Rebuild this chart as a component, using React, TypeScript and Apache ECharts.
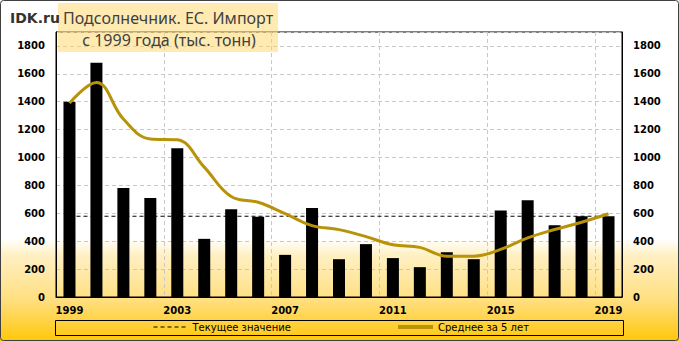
import React, { useEffect, useRef } from "react";
import * as echarts from "echarts";

const years = ["1999","2000","2001","2002","2003","2004","2005","2006","2007","2008","2009","2010","2011","2012","2013","2014","2015","2016","2017","2018","2019"];
const imports = [1400,1680,781,709,1066,417,629,576,302,638,271,379,279,214,321,271,621,693,514,579,579];
const avg5 = [1390,1538,1276,1133,1127,931,720,679,598,512,483,433,374,356,293,293,341,424,484,536,597];
const currentValue = imports[imports.length - 1];
const currentLine = years.map(() => currentValue);

const titleLines = ["Подсолнечник. ЕС. Импорт", "с 1999 года (тыс. тонн)"];
const legendNames = ["Текущее значение", "Среднее за 5 лет"];

const GOLD = "#B8930A";
const AXIS_FONT = { fontFamily: "DejaVu Sans", fontWeight: "bold" as const, fontSize: 10, color: "#000" };
const LEGEND_TEXT = { fontFamily: "DejaVu Sans", fontSize: 10, color: "#000" };

export default function App() {
  const ref = useRef<HTMLDivElement>(null);
  useEffect(() => {
    document.body.style.margin = "0";
    if (!ref.current) return;
    const chart = echarts.init(ref.current, null, { renderer: "svg" });
    chart.setOption({
      animation: false,
      grid: { left: 56, right: 57, top: 32, bottom: 44, show: true, borderColor: "#000", borderWidth: 1, backgroundColor: "transparent" },
      xAxis: {
        type: "category",
        data: years,
        boundaryGap: true,
        axisLine: { show: true, lineStyle: { color: "#000", width: 1 } },
        axisTick: { show: false },
        axisLabel: { interval: 3, margin: 8, ...AXIS_FONT },
        splitLine: { show: true, interval: 3, lineStyle: { color: "#C8C8C8", type: [4, 3], width: 1 } },
      },
      yAxis: [
        {
          type: "value", min: 0, max: 1900, interval: 200,
          axisLine: { show: true, lineStyle: { color: "#000" } },
          axisTick: { show: false },
          axisLabel: { showMaxLabel: false, margin: 11, formatter: (v: number) => String(v), ...AXIS_FONT },
          splitLine: { show: true, lineStyle: { color: "#C8C8C8", type: [4, 3], width: 1 } },
        },
        {
          type: "value", min: 0, max: 1900, interval: 200, position: "right",
          axisLine: { show: true, lineStyle: { color: "#000" } },
          axisTick: { show: false },
          axisLabel: { showMaxLabel: false, margin: 11, formatter: (v: number) => String(v), ...AXIS_FONT },
          splitLine: { show: false },
        },
      ],
      legend: [
        {
          data: [legendNames[0]], left: 153, top: 322, padding: 0, itemWidth: 34, itemHeight: 12, itemGap: 0,
          itemStyle: { color: "transparent", borderWidth: 0, opacity: 0 },
          lineStyle: { width: 1, type: [4, 3] },
          textStyle: LEGEND_TEXT,
        },
        {
          data: [legendNames[1]], left: 396, top: 322, padding: 0, itemWidth: 35, itemHeight: 12, itemGap: 0,
          itemStyle: { color: "transparent", borderWidth: 0, opacity: 0 },
          lineStyle: { width: 4 },
          textStyle: LEGEND_TEXT,
        },
      ],
      graphic: [
        { type: "rect", z: 100, silent: true, shape: { x: 0.5, y: 0.5, width: 678, height: 340, r: 3 }, style: { fill: "none", stroke: "#404040", lineWidth: 1 } },
        { type: "rect", z: 100, silent: true, shape: { x: 55.5, y: 320.5, width: 568, height: 15 }, style: { fill: "none", stroke: "#000", lineWidth: 1 } },
        { type: "rect", z: 100, silent: true, shape: { x: 58, y: 3, width: 220, height: 49 }, style: { fill: "rgba(255,214,100,0.5)" } },
        { type: "text", z: 101, x: 168, y: 18, style: { text: titleLines[0], fontFamily: "Noto Sans", fontSize: 16, fill: "#404040", align: "center", verticalAlign: "middle" } },
        { type: "text", z: 101, x: 169, y: 40, style: { text: titleLines[1], fontFamily: "Noto Sans", fontSize: 16, fill: "#404040", align: "center", verticalAlign: "middle" } },
        { type: "text", z: 101, x: 10, y: 18, style: { text: "IDK.ru", fontFamily: "DejaVu Sans", fontWeight: "bold", fontSize: 14, fill: "#333", align: "left", verticalAlign: "middle" } },
      ],
      series: [
        {
          type: "bar", name: "Импорт", data: imports, barWidth: 12, itemStyle: { color: "#000" }, z: 2,
        },
        {
          type: "line", name: legendNames[0], data: currentLine, symbol: "none", z: 1,
          lineStyle: { color: "#000", width: 1, type: [4, 3] }, itemStyle: { color: "#000" },
        },
        {
          type: "line", name: legendNames[1], data: avg5, symbol: "none", smooth: 0.4, z: 3,
          lineStyle: { color: GOLD, width: 3 }, itemStyle: { color: GOLD },
        },
      ],
    });
    return () => chart.dispose();
  }, []);
  return (
    <div
      ref={ref}
      style={{
        width: 679,
        height: 341,
        background: "linear-gradient(to bottom, #ffffff 0%, #ffffff 70%, #FFF0C2 75%, #FFDF80 88%, #FFC70A 100%)",
      }}
    />
  );
}
